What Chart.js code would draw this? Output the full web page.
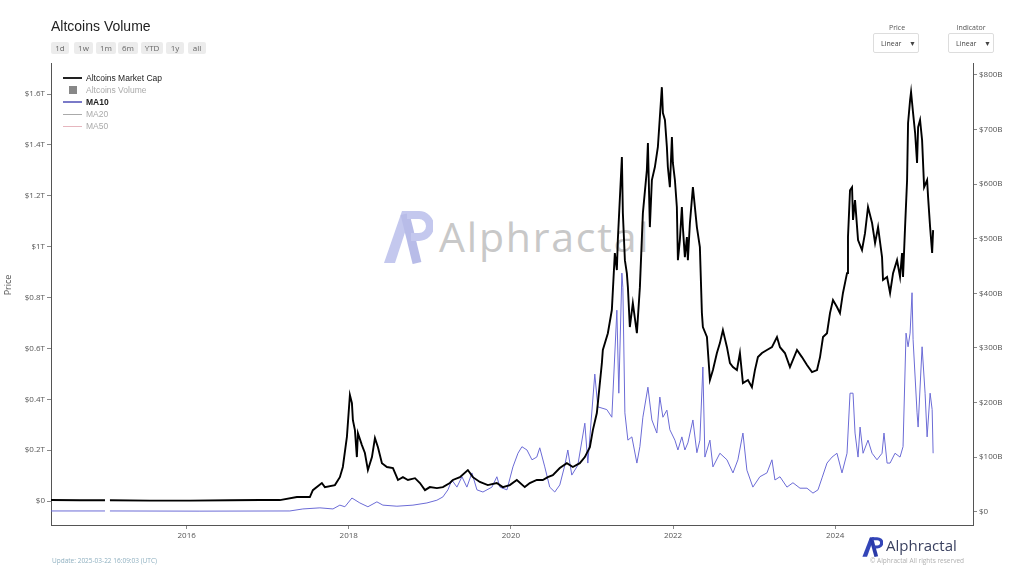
<!DOCTYPE html>
<html><head><meta charset="utf-8">
<script src="https://cdn.jsdelivr.net/npm/chart.js@4"></script>
<style>
html,body{margin:0;padding:0;background:#fff;width:1024px;height:576px;overflow:hidden;}
#wrap{position:relative;width:1024px;height:576px;font-family:"Open Sans",sans-serif;}
#c{position:absolute;left:0;top:0;z-index:2;}
.abs{position:absolute;white-space:nowrap;}
.title{left:51px;top:18px;font:14px "Liberation Sans",Arial,sans-serif;color:#222;line-height:16px;z-index:3;}
.btn{top:42px;height:12px;line-height:12px;font-size:8px;color:#666;background:#ececec;border-radius:2px;text-align:center;z-index:3;}
.lg{font:8.5px "Liberation Sans",Arial,sans-serif;line-height:10px;z-index:3;}
.sw{position:absolute;height:2px;z-index:3;}
.sel{border:1px solid #ddd;border-radius:2px;height:20px;top:33px;width:46px;font-size:7px;color:#444;line-height:20px;z-index:3;box-sizing:border-box;}
.sel span{position:absolute;}
.small{font-size:7px;color:#555;line-height:10px;text-align:center;z-index:3;}
.wm{z-index:1;}
</style></head>
<body>
<div id="wrap">
  <div class="abs wm" style="left:383px;top:208px;width:50px;height:56px;">
    <svg width="50" height="56" viewBox="0 0 50 56">
      <path d="M1 55 L19 3 L29 3 L12 55 Z" fill="#c4c8ee"/>
      <path d="M22 6 L34 55" stroke="#b8bce8" stroke-width="9" fill="none"/>
      <path d="M24 7 H36 a11 11 0 0 1 0 22 H28" stroke="#c4c8ee" stroke-width="8" fill="none"/>
    </svg>
  </div>
  <div class="abs wm" style="left:439px;top:216px;font-size:41px;line-height:41px;letter-spacing:1.8px;color:#c8c8c8;">Alphractal</div>

  <canvas id="c" width="1024" height="576"></canvas>

  <div class="abs title">Altcoins Volume</div>
  <div class="abs btn" style="left:51px;width:18px;">1d</div>
  <div class="abs btn" style="left:74px;width:19px;">1w</div>
  <div class="abs btn" style="left:96px;width:20px;">1m</div>
  <div class="abs btn" style="left:118px;width:20px;">6m</div>
  <div class="abs btn" style="left:141px;width:22px;">YTD</div>
  <div class="abs btn" style="left:166px;width:18px;">1y</div>
  <div class="abs btn" style="left:188px;width:18px;">all</div>

  <div class="abs small" style="left:872px;top:23px;width:50px;">Price</div>
  <div class="abs sel" style="left:873px;"><span style="left:7px;">Linear</span><span style="left:35px;font-size:7px;">▼</span></div>
  <div class="abs small" style="left:946px;top:23px;width:50px;">Indicator</div>
  <div class="abs sel" style="left:948px;"><span style="left:7px;">Linear</span><span style="left:35px;font-size:7px;">▼</span></div>

  <div class="sw" style="left:63px;top:77px;width:19px;background:#222;"></div>
  <div class="abs lg" style="left:86px;top:73px;color:#222;">Altcoins Market Cap</div>
  <div class="abs" style="left:69px;top:86px;width:8px;height:8px;background:#888;z-index:3;"></div>
  <div class="abs lg" style="left:86px;top:85px;color:#aaa;">Altcoins Volume</div>
  <div class="sw" style="left:63px;top:101px;width:19px;height:1.5px;background:#7a7ac8;"></div>
  <div class="abs lg" style="left:86px;top:97px;color:#222;font-weight:bold;">MA10</div>
  <div class="sw" style="left:63px;top:114px;width:19px;height:1px;background:#aaa;"></div>
  <div class="abs lg" style="left:86px;top:109px;color:#aaa;">MA20</div>
  <div class="sw" style="left:63px;top:126px;width:19px;height:1px;background:#e6b6be;"></div>
  <div class="abs lg" style="left:86px;top:121px;color:#aaa;">MA50</div>

  <div class="abs" style="left:-12px;top:280px;width:40px;text-align:center;font-size:9px;line-height:10px;color:#555;transform:rotate(-90deg);z-index:3;">Price</div>

  <div class="abs" style="left:52px;top:556px;font-size:6.5px;line-height:10px;color:#8fb0c0;z-index:3;">Update: 2025-03-22 16:09:03 (UTC)</div>
  <div class="abs" style="left:862px;top:536px;width:21px;height:21px;z-index:3;">
    <svg width="21" height="21" viewBox="0 0 50 56" preserveAspectRatio="none">
      <path d="M1 55 L19 3 L29 3 L12 55 Z" fill="#3345b8"/>
      <path d="M22 6 L34 55" stroke="#2a3aa8" stroke-width="9" fill="none"/>
      <path d="M24 7 H36 a11 11 0 0 1 0 22 H28" stroke="#3345b8" stroke-width="8" fill="none"/>
    </svg>
  </div>
  <div class="abs" style="left:886px;top:535px;font-size:15px;line-height:20px;color:#3a4160;z-index:3;">Alphractal</div>
  <div class="abs" style="left:870px;top:556px;font-size:6.5px;line-height:10px;color:#b0b0b0;z-index:3;">© Alphractal All rights reserved</div>
</div>
<script>
// ---- Data ----
const xTicks = [2016, 2018, 2020, 2022, 2024];
const leftTicks = [0, 0.2, 0.4, 0.6, 0.8, 1.0, 1.2, 1.4, 1.6];
const leftTickLabels = ["$0", "$0.2T", "$0.4T", "$0.6T", "$0.8T", "$1T", "$1.2T", "$1.4T", "$1.6T"];
const rightTicks = [0, 100, 200, 300, 400, 500, 600, 700, 800];
const rightTickLabels = ["$0", "$100B", "$200B", "$300B", "$400B", "$500B", "$600B", "$700B", "$800B"];

// Altcoins Market Cap (trillions USD), by decimal year
const capYears = [2014.327,2014.684,2014.993,2015.02,2015.054,2015.548,2016.041,2016.534,2016.904,2017.150,2017.360,2017.520,2017.557,2017.668,2017.705,2017.829,2017.890,2017.927,2017.977,2018.014,2018.039,2018.051,2018.076,2018.100,2018.113,2018.162,2018.199,2018.236,2018.286,2018.323,2018.360,2018.409,2018.471,2018.545,2018.607,2018.668,2018.730,2018.817,2018.878,2018.940,2019.000,2019.087,2019.161,2019.247,2019.284,2019.371,2019.469,2019.531,2019.617,2019.715,2019.826,2019.900,2019.986,2020.073,2020.171,2020.233,2020.319,2020.393,2020.455,2020.517,2020.603,2020.690,2020.764,2020.850,2020.912,2020.974,2021.011,2021.060,2021.122,2021.134,2021.196,2021.245,2021.282,2021.307,2021.319,2021.369,2021.381,2021.406,2021.430,2021.443,2021.467,2021.504,2021.554,2021.591,2021.628,2021.677,2021.690,2021.714,2021.739,2021.776,2021.813,2021.862,2021.875,2021.900,2021.924,2021.936,2021.961,2021.986,2021.998,2022.023,2022.047,2022.060,2022.084,2022.109,2022.121,2022.146,2022.171,2022.183,2022.208,2022.245,2022.294,2022.331,2022.356,2022.368,2022.418,2022.455,2022.492,2022.541,2022.578,2022.615,2022.665,2022.702,2022.739,2022.788,2022.825,2022.862,2022.924,2022.973,2023.010,2023.047,2023.097,2023.158,2023.220,2023.282,2023.319,2023.380,2023.442,2023.529,2023.590,2023.652,2023.714,2023.776,2023.813,2023.850,2023.899,2023.936,2023.973,2024.022,2024.059,2024.096,2024.146,2024.158,2024.183,2024.208,2024.220,2024.245,2024.282,2024.331,2024.368,2024.405,2024.455,2024.492,2024.529,2024.578,2024.590,2024.640,2024.677,2024.714,2024.763,2024.800,2024.825,2024.837,2024.862,2024.887,2024.899,2024.924,2024.936,2024.961,2024.986,2025.010,2025.023,2025.047,2025.072,2025.097,2025.134,2025.146,2025.171,2025.196,2025.208];
const capValues = [0.004,0.003,0.003,null,0.003,0.002,0.002,0.003,0.004,0.004,0.016,0.016,0.043,0.071,0.055,0.063,0.094,0.134,0.252,0.417,0.385,0.318,0.279,0.173,0.267,0.220,0.189,0.122,0.173,0.248,0.212,0.149,0.134,0.130,0.083,0.094,0.083,0.090,0.071,0.043,0.055,0.051,0.055,0.071,0.083,0.094,0.122,0.094,0.075,0.063,0.071,0.055,0.063,0.083,0.055,0.071,0.083,0.083,0.094,0.102,0.130,0.149,0.134,0.149,0.173,0.212,0.279,0.346,0.542,0.594,0.660,0.751,0.975,0.908,1.026,1.352,1.132,0.947,0.896,0.841,0.684,0.778,0.660,0.841,1.132,1.301,1.407,1.077,1.262,1.313,1.392,1.627,1.525,1.498,1.392,1.313,1.234,1.431,1.329,1.262,1.156,0.947,1.026,1.156,1.077,0.959,1.038,0.947,1.093,1.234,1.077,0.998,0.739,0.684,0.645,0.476,0.515,0.582,0.621,0.672,0.605,0.542,0.527,0.515,0.582,0.464,0.476,0.448,0.515,0.566,0.582,0.594,0.605,0.645,0.605,0.582,0.527,0.594,0.566,0.535,0.507,0.515,0.566,0.645,0.660,0.739,0.790,0.763,0.739,0.818,0.896,1.038,1.222,1.234,1.105,1.183,1.026,0.987,1.053,1.156,1.093,1.014,1.077,0.959,0.869,0.881,0.818,0.896,0.947,0.881,0.975,0.881,1.077,1.262,1.486,1.576,1.608,1.525,1.447,1.329,1.470,1.498,1.419,1.234,1.262,1.195,1.077,0.975,1.065];

// Altcoins Volume MA10 (billions USD), by decimal year
const volYears = [2014.327,2014.993,2015.02,2015.054,2016.164,2017.274,2017.434,2017.644,2017.805,2017.890,2017.952,2018.039,2018.137,2018.236,2018.347,2018.421,2018.594,2018.792,2018.964,2019.087,2019.161,2019.223,2019.272,2019.334,2019.396,2019.457,2019.519,2019.581,2019.655,2019.766,2019.827,2019.864,2019.951,2020.025,2020.087,2020.136,2020.198,2020.260,2020.319,2020.356,2020.418,2020.479,2020.541,2020.603,2020.665,2020.702,2020.751,2020.825,2020.912,2020.949,2021.035,2021.072,2021.183,2021.245,2021.307,2021.331,2021.369,2021.381,2021.406,2021.443,2021.492,2021.554,2021.591,2021.628,2021.690,2021.739,2021.800,2021.837,2021.875,2021.924,2021.961,2022.023,2022.060,2022.109,2022.146,2022.183,2022.245,2022.294,2022.331,2022.368,2022.393,2022.455,2022.492,2022.578,2022.665,2022.739,2022.800,2022.862,2022.911,2022.985,2023.071,2023.158,2023.220,2023.257,2023.319,2023.405,2023.479,2023.566,2023.652,2023.726,2023.788,2023.838,2023.899,2023.961,2024.022,2024.084,2024.146,2024.183,2024.220,2024.245,2024.282,2024.307,2024.344,2024.405,2024.455,2024.516,2024.578,2024.602,2024.640,2024.677,2024.738,2024.800,2024.837,2024.874,2024.899,2024.924,2024.948,2024.961,2025.010,2025.023,2025.072,2025.109,2025.134,2025.171,2025.196,2025.208];
const volValues = [1.3,1.3,null,1.3,1.0,1.3,5,7,5,12,9,25,16,9,18,12,10,12,16,21,27,40,58,45,64,45,71,40,36,45,64,45,40,82,107,119,113,95,100,117,82,45,36,49,85,113,67,85,162,89,252,192,187,173,369,217,437,411,181,131,137,89,119,173,228,168,144,210,173,186,150,131,113,137,113,126,168,108,131,265,100,131,82,107,95,71,95,144,76,45,64,71,95,58,64,45,53,43,43,34,40,62,89,100,107,71,107,217,217,144,100,155,107,131,107,95,107,144,89,89,107,100,119,327,302,327,401,315,181,155,302,217,137,217,187,107];

const toPoints = (xs, ys) => xs.map((x, i) => ({ x: x, y: ys[i] }));
const tickFont = { family: "'Open Sans', sans-serif", size: 8 };

new Chart(document.getElementById('c'), {
  type: 'line',
  data: {
    datasets: [
      { label: 'Altcoins Market Cap', data: toPoints(capYears, capValues), yAxisID: 'y',
        borderColor: '#000', borderWidth: 1.9, pointRadius: 0, tension: 0, spanGaps: false },
      { label: 'MA10', data: toPoints(volYears, volValues), yAxisID: 'y1',
        borderColor: '#6b6bd6', borderWidth: 1, pointRadius: 0, tension: 0, spanGaps: false }
    ]
  },
  options: {
    responsive: false, devicePixelRatio: 1, animation: false,
    layout: { padding: { top: 63, left: 0, right: 0, bottom: 0 } },
    plugins: { legend: { display: false }, tooltip: { enabled: false } },
    scales: {
      x: {
        type: 'linear', position: 'bottom', min: 2014.327, max: 2025.70,
        afterFit: s => { s.height = 51; },
        afterBuildTicks: s => { s.ticks = xTicks.map(v => ({ value: v })); },
        ticks: { font: tickFont, color: '#555', padding: 2, maxRotation: 0, callback: v => String(v) },
        grid: { drawOnChartArea: false, tickLength: 4, color: '#888' },
        border: { color: '#555', width: 1 }
      },
      y: {
        position: 'left', min: -0.094, max: 1.722,
        afterFit: s => { s.width = 51; },
        afterBuildTicks: s => { s.ticks = leftTicks.map(v => ({ value: v })); },
        ticks: { font: tickFont, color: '#555', padding: 2, callback: (v, i) => leftTickLabels[i] },
        grid: { drawOnChartArea: false, tickLength: 4, color: '#888' },
        border: { color: '#555', width: 1 }
      },
      y1: {
        position: 'right', min: -24.4, max: 821.8,
        afterFit: s => { s.width = 51; },
        afterBuildTicks: s => { s.ticks = rightTicks.map(v => ({ value: v })); },
        ticks: { font: tickFont, color: '#555', padding: 2, callback: (v, i) => rightTickLabels[i] },
        grid: { drawOnChartArea: false, tickLength: 4, color: '#888' },
        border: { color: '#555', width: 1 }
      }
    }
  }
});
</script>
</body></html>
